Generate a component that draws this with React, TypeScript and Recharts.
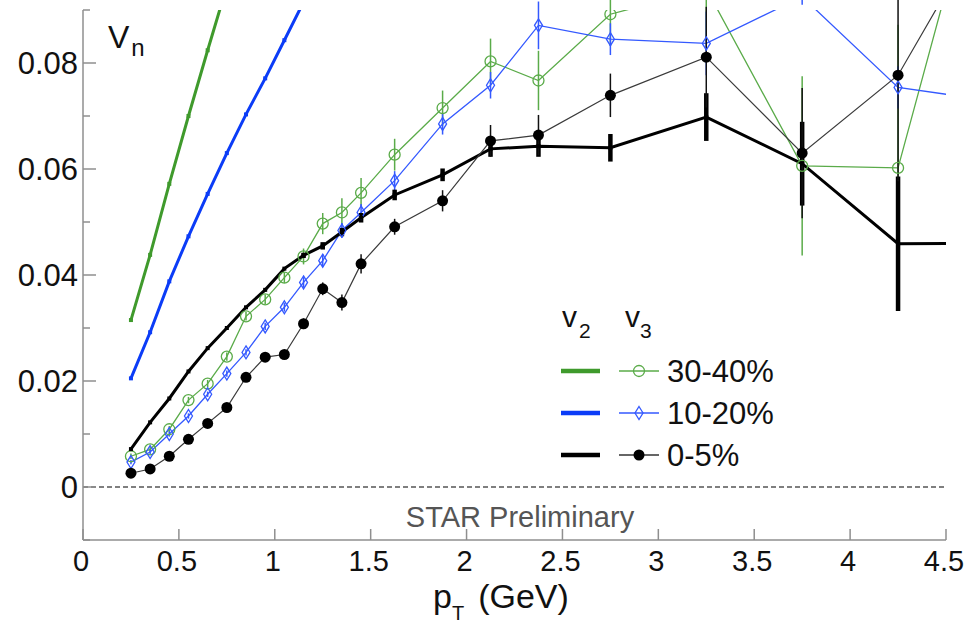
import React from "react";
import { ComposedChart, Line, XAxis, YAxis, ErrorBar, ReferenceLine } from "recharts";

// pT bins (GeV) shared by the v3 and 0-5% v2 measurements
const PT = [0.25, 0.35, 0.45, 0.55, 0.65, 0.75, 0.85, 0.95, 1.05, 1.15, 1.25, 1.35, 1.45, 1.625, 1.875, 2.125, 2.375, 2.75, 3.25, 3.75, 4.25, 4.75];

// v2 bands for the peripheral bins
const PT_V2_3040 = [0.25, 0.35, 0.45, 0.55, 0.65, 0.75];
const V2_3040 = [0.0315, 0.0438, 0.0572, 0.07, 0.0824, 0.0945];
const PT_V2_1020 = [0.25, 0.35, 0.45, 0.55, 0.65, 0.75, 0.85, 0.95, 1.05, 1.15];
const V2_1020 = [0.0205, 0.0292, 0.0388, 0.0473, 0.0553, 0.063, 0.0703, 0.0771, 0.0843, 0.0915];

// v2 0-5% with systematic errors
const V2_005 = [0.00715, 0.0122, 0.0167, 0.0218, 0.0262, 0.03, 0.0339, 0.0372, 0.0412, 0.0437, 0.0455, 0.0481, 0.0508, 0.0551, 0.0589, 0.0638, 0.0643, 0.064, 0.0698, 0.061, 0.0459, 0.046];
const V2_005_SYS = [0, 0, 0, 0, 0, 0, 0, 0, 0, 0.0005, 0.0007, 0.0008, 0.0009, 0.001, 0.0012, 0.0015, 0.002, 0.0026, 0.0045, 0.0079, 0.0127, 0];

// v3 with statistical errors
const V3_3040 = [0.0058, 0.0071, 0.0109, 0.0164, 0.0195, 0.0246, 0.0322, 0.0354, 0.0395, 0.0435, 0.0497, 0.0518, 0.0555, 0.0627, 0.0715, 0.0803, 0.0767, 0.0892, 0.094, 0.0606, 0.0602, 0.127];
const V3_3040_ERR = [0.0005, 0.0005, 0.0006, 0.0006, 0.0007, 0.0008, 0.0008, 0.0009, 0.001, 0.0015, 0.002, 0.0027, 0.0028, 0.003, 0.0033, 0.0043, 0.0056, 0.006, 0.01, 0.0169, 0.027, 0.03];
const V3_1020 = [0.0047, 0.0066, 0.01, 0.0134, 0.0175, 0.0214, 0.0254, 0.0303, 0.0339, 0.0386, 0.0427, 0.0484, 0.0518, 0.0578, 0.0685, 0.0758, 0.0871, 0.0845, 0.0837, 0.0925, 0.0754, 0.0728];
const V3_1020_ERR = [0.0004, 0.0004, 0.0005, 0.0005, 0.0005, 0.0006, 0.0006, 0.0007, 0.0008, 0.001, 0.0012, 0.0014, 0.0016, 0.0018, 0.002, 0.0025, 0.0045, 0.003, 0.006, 0.0015, 0.004, 0.004];
const V3_005 = [0.0026, 0.0034, 0.0058, 0.009, 0.012, 0.015, 0.0207, 0.0245, 0.025, 0.0308, 0.0374, 0.0348, 0.0421, 0.0491, 0.054, 0.0653, 0.0664, 0.0739, 0.0811, 0.063, 0.0777, 0.109];
const V3_005_ERR = [0.0004, 0.0004, 0.0004, 0.0005, 0.0005, 0.0005, 0.0006, 0.0007, 0.0008, 0.001, 0.0012, 0.0015, 0.0018, 0.0015, 0.002, 0.003, 0.0038, 0.0041, 0.0095, 0.0123, 0.02, 0.02];

const X_TICKS = [0, 0.5, 1, 1.5, 2, 2.5, 3, 3.5, 4, 4.5];
const Y_TICKS = [-0.01, 0, 0.01, 0.02, 0.03, 0.04, 0.05, 0.06, 0.07, 0.08, 0.09];

const GREEN2 = "#3f9a2c";
const GREEN3 = "#5aab49";
const BLUE2 = "#0b3cf7";
const BLUE3 = "#3459ff";
const AXIS = "#8f8f8f";
const FONT = '"Liberation Sans", Arial, sans-serif';

const LEGEND = [
  { label: "30-40%", v2: GREEN2, v3: GREEN3, marker: "circle" },
  { label: "10-20%", v2: BLUE2, v3: BLUE3, marker: "diamond" },
  { label: "0-5%", v2: "#000", v3: "#333", marker: "filled" },
];

const zip = (xs: number[], ys: number[], es?: number[]) =>
  xs.map((x, i) => ({ x, y: ys[i], err: es ? es[i] : 0 }));

function Marker({ kind, cx, cy, color }: { kind: string; cx: number; cy: number; color: string }) {
  if (kind === "circle") return <circle cx={cx} cy={cy} r={5.5} fill="none" stroke={color} strokeWidth={1.3} />;
  if (kind === "diamond")
    return <path d={`M${cx},${cy - 6.5}L${cx + 4},${cy}L${cx},${cy + 6.5}L${cx - 4},${cy}Z`} fill="none" stroke={color} strokeWidth={1.3} />;
  if (kind === "filled") return <circle cx={cx} cy={cy} r={5.5} fill="#000" />;
  return <rect x={cx - 2} y={cy - 2} width={4} height={4} fill={color} />;
}

const dotOf = (kind: string, color: string) => (p: any) => (
  <g key={`dot-${p.index}`}>
    <Marker kind={kind} cx={p.cx} cy={p.cy} color={color} />
  </g>
);

function YTick(props: any) {
  const { x, y, payload } = props;
  const v = payload.value;
  const major = Math.round(v * 100) % 2 === 0;
  return (
    <g>
      <line x1={x} x2={x + (major ? 13 : 7)} y1={y} y2={y} stroke={AXIS} strokeWidth={1.5} />
      {major && v >= 0 && (
        <text x={x - 5} y={y + 11} textAnchor="end" fontSize={31} fontFamily={FONT} fill="#111">
          {v === 0 ? "0" : v.toFixed(2)}
        </text>
      )}
    </g>
  );
}

function XTick(props: any) {
  const { x, y, payload } = props;
  return (
    <g>
      <line x1={x} x2={x} y1={y} y2={y - 11} stroke={AXIS} strokeWidth={1.5} />
      <text x={x - 2} y={y + 31} textAnchor="middle" fontSize={29} fontFamily={FONT} fill="#111">
        {String(payload.value)}
      </text>
    </g>
  );
}

export default function App() {
  return (
    <div style={{ position: "relative", width: 970, height: 627, background: "#fff", fontFamily: FONT }}>
      <style>{`body { margin: 0; overflow: hidden; }`}</style>
      <ComposedChart width={970} height={627} margin={{ top: 10, right: 24, bottom: 57, left: 23 }}>
        <XAxis
          type="number"
          dataKey="x"
          domain={[0, 4.5]}
          ticks={X_TICKS}
          interval={0}
          allowDataOverflow
          height={30}
          tickSize={0}
          tickMargin={0}
          tickLine={false}
          axisLine={{ stroke: AXIS, strokeWidth: 1.5 }}
          tick={<XTick />}
        />
        <YAxis
          type="number"
          dataKey="y"
          domain={[-0.01, 0.09]}
          ticks={Y_TICKS}
          interval={0}
          allowDataOverflow
          width={60}
          tickSize={0}
          tickMargin={0}
          tickLine={false}
          axisLine={{ stroke: AXIS, strokeWidth: 1.5 }}
          tick={<YTick />}
        />
        <ReferenceLine y={0} stroke="#000" strokeDasharray="5 3" strokeWidth={1.2} />

        <Line data={zip(PT_V2_3040, V2_3040)} dataKey="y" type="linear" stroke={GREEN2} strokeWidth={3}
          dot={dotOf("square", GREEN2)} activeDot={false} isAnimationActive={false} />
        <Line data={zip(PT_V2_1020, V2_1020)} dataKey="y" type="linear" stroke={BLUE2} strokeWidth={3}
          dot={dotOf("square", BLUE2)} activeDot={false} isAnimationActive={false} />

        <Line data={zip(PT, V3_3040, V3_3040_ERR)} dataKey="y" type="linear" stroke={GREEN3} strokeWidth={1.3}
          dot={dotOf("circle", GREEN3)} activeDot={false} isAnimationActive={false}>
          <ErrorBar dataKey="err" width={0} stroke={GREEN3} strokeWidth={1.5} direction="y" />
        </Line>
        <Line data={zip(PT, V3_1020, V3_1020_ERR)} dataKey="y" type="linear" stroke={BLUE3} strokeWidth={1.3}
          dot={dotOf("diamond", BLUE3)} activeDot={false} isAnimationActive={false}>
          <ErrorBar dataKey="err" width={0} stroke={BLUE3} strokeWidth={1.5} direction="y" />
        </Line>

        <Line data={zip(PT, V2_005, V2_005_SYS)} dataKey="y" type="linear" stroke="#000" strokeWidth={3}
          dot={dotOf("square", "#000")} activeDot={false} isAnimationActive={false}>
          <ErrorBar dataKey="err" width={0} stroke="#000" strokeWidth={4.5} direction="y" />
        </Line>
        <Line data={zip(PT, V3_005, V3_005_ERR)} dataKey="y" type="linear" stroke="#3a3a3a" strokeWidth={1.2}
          dot={dotOf("filled", "#000")} activeDot={false} isAnimationActive={false}>
          <ErrorBar dataKey="err" width={0} stroke="#111" strokeWidth={1.5} direction="y" />
        </Line>
      </ComposedChart>

      <svg width={970} height={627} style={{ position: "absolute", left: 0, top: 0, pointerEvents: "none" }} fontFamily={FONT}>
        <text x={108} y={48} fontSize={32} fill="#111">
          V<tspan fontSize={24} dy={8} dx={2}>n</tspan>
        </text>

        <text x={562} y={327} fontSize={30} fill="#111">
          v<tspan fontSize={21} dy={11} dx={2}>2</tspan>
        </text>
        <text x={625} y={327} fontSize={30} fill="#111">
          v<tspan fontSize={21} dy={11} dx={0}>3</tspan>
        </text>
        {LEGEND.map((row, i) => {
          const y = 371 + i * 42;
          return (
            <g key={row.label}>
              <line x1={561} x2={600} y1={y} y2={y} stroke={row.v2} strokeWidth={4.5} />
              <line x1={619} x2={659} y1={y} y2={y} stroke={row.v3} strokeWidth={1.3} />
              <Marker kind={row.marker} cx={639} cy={y} color={row.v3} />
              <text x={667} y={y + 11} fontSize={31} fill="#111">{row.label}</text>
            </g>
          );
        })}

        <text x={520} y={527} textAnchor="middle" fontSize={29} fill="#555">STAR Preliminary</text>

        <text x={433} y={608} fontSize={34} fill="#111">
          p<tspan fontSize={20} dy={12} dx={0}>T</tspan>
          <tspan dy={-12} dx={14}>(GeV)</tspan>
        </text>
      </svg>
    </div>
  );
}
